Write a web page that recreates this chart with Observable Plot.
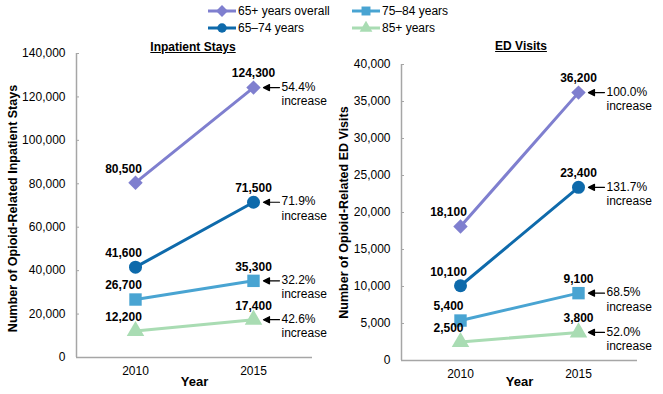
<!DOCTYPE html>
<html><head><meta charset="utf-8">
<script src="https://cdn.jsdelivr.net/npm/d3@7"></script>
<script src="https://cdn.jsdelivr.net/npm/@observablehq/plot@0.6"></script>
<style>
body{margin:0;background:#fff;font-family:"Liberation Sans",Arial,sans-serif;color:#000}
#wrap{position:relative;width:663px;height:394px;overflow:hidden}
.panel{position:absolute;top:0}
.title{position:absolute;font-weight:bold;font-size:12px;text-decoration:underline;transform:translate(-50%,-50%);white-space:nowrap}
.lg{position:absolute;display:flex;align-items:center;font-size:12px;white-space:nowrap;transform:translateY(-50%)}
.lg svg{margin-right:2px}
</style></head>
<body>
<div id="wrap"></div>
<script>
const years = [2010, 2015];
const series = ["65+ years overall", "65–74 years", "75–84 years", "85+ years"];
const colors = ["#7f7fcf", "#0e6aab", "#49a4d2", "#a9dcb3"];
const symbols = ["diamond2", "circle", "square", "triangle"];
const radii = [6.5, 6.5, 7, 6.5];

const inpatient2010 = [80500, 41600, 26700, 12200];
const inpatient2015 = [124300, 71500, 35300, 17400];
const inpatientChange = ["54.4%", "71.9%", "32.2%", "42.6%"];
const inpatientTicks = [0, 20000, 40000, 60000, 80000, 100000, 120000, 140000];

const ed2010 = [18100, 10100, 5400, 2500];
const ed2015 = [36200, 23400, 9100, 3800];
const edChange = ["100.0%", "131.7%", "68.5%", "52.0%"];
const edTicks = [0, 5000, 10000, 15000, 20000, 25000, 30000, 35000, 40000];

const fmt = d3.format(",");
const wrap = document.getElementById("wrap");

function makePanel(cfg) {
  const rows = [];
  series.forEach((s, i) => {
    rows.push({series: s, i, year: years[0], value: cfg.v0[i]});
    rows.push({series: s, i, year: years[1], value: cfg.v1[i], change: cfg.change[i]});
  });
  const r0 = rows.filter(d => d.year === years[0]);
  const r1 = rows.filter(d => d.year === years[1]);
  const axisColor = "#a6a6a6";
  const frameW = cfg.width - cfg.ml - cfg.mr;
  const marks = [
    Plot.tickY(cfg.ticks.slice(1), {y: d => d, stroke: axisColor, strokeWidth: 1, insetRight: frameW - 3}),
    Plot.ruleY([0], {stroke: axisColor, strokeWidth: 1.5}),
    Plot.ruleX([cfg.xDomain[0]], {stroke: axisColor, strokeWidth: 1.5}),
    Plot.axisY({ticks: cfg.ticks, tickFormat: fmt, tickSize: 0, tickPadding: 11, label: null}),
    Plot.axisX({ticks: years, tickFormat: d => String(d), tickSize: 0, tickPadding: 9, label: null}),
    Plot.line(rows, {x: "year", y: "value", z: "series", stroke: "series", strokeWidth: 3}),
    ...series.map((s, i) => Plot.dot(rows.filter(d => d.i === i), {x: "year", y: "value", fill: "series", symbol: "series", r: radii[i]})),
    Plot.text(r0, {x: "year", y: "value", text: d => fmt(d.value), dx: -12, dy: -14, fontWeight: "bold"}),
    Plot.text(r1, {x: "year", y: "value", text: d => fmt(d.value), dx: 0, dy: -14, fontWeight: "bold"}),
    Plot.vector(r1, {x: "year", y: "value", length: 16, rotate: -90, anchor: "start", dx: 26,
      stroke: "black", fill: "black", strokeWidth: 1.2,
      shape: {draw(ctx, l) {
        ctx.moveTo(0, 0); ctx.lineTo(0, -l + 4);
        ctx.moveTo(0, -l); ctx.lineTo(-3, -l + 6); ctx.lineTo(3, -l + 6); ctx.closePath();
      }}}),
    Plot.text(r1, {x: "year", y: "value", text: d => d.change + "\nincrease", textAnchor: "start", lineAnchor: "top", dx: 28, dy: -7, lineHeight: 1.2}),
    Plot.text(["Year"], {frameAnchor: "bottom", dy: cfg.yearDy, fontWeight: "bold", fontSize: 13}),
    Plot.text([cfg.ylabel], {frameAnchor: "left", textAnchor: "middle", rotate: -90, dx: cfg.ylabelDx, dy: cfg.ylabelDy, fontWeight: "bold", fontSize: 12.5})
  ];
  const p = Plot.plot({
    width: cfg.width, height: 394,
    marginLeft: cfg.ml, marginRight: cfg.mr, marginTop: cfg.mt, marginBottom: cfg.mb,
    style: {fontSize: "12px", fontFamily: "'Liberation Sans', Arial, sans-serif", color: "#000", background: "transparent", overflow: "visible"},
    x: {type: "linear", domain: cfg.xDomain, axis: null},
    y: {domain: [0, cfg.ticks[cfg.ticks.length - 1]], axis: null},
    color: {domain: series, range: colors},
    symbol: {domain: series, range: symbols},
    marks
  });
  p.classList.add("panel");
  p.style.left = cfg.left + "px";
  wrap.appendChild(p);
  const t = document.createElement("div");
  t.className = "title"; t.textContent = cfg.title;
  t.style.left = cfg.tx + "px"; t.style.top = cfg.ty + "px";
  wrap.appendChild(t);
}

makePanel({v0: inpatient2010, v1: inpatient2015, change: inpatientChange, ticks: inpatientTicks,
  ylabel: "Number of Opioid-Related Inpatient Stays", title: "Inpatient Stays",
  width: 331, left: 0, ml: 76, mr: 19, mt: 53, mb: 37, xDomain: [2007.5, 2017.5],
  yearDy: 28, ylabelDx: -64, ylabelDy: 3, tx: 193, ty: 47});
makePanel({v0: ed2010, v1: ed2015, change: edChange, ticks: edTicks,
  ylabel: "Number of Opioid-Related ED Visits", title: "ED Visits",
  width: 332, left: 331, ml: 70, mr: 26, mt: 64, mb: 34, xDomain: [2007.5, 2017.5],
  yearDy: 25, ylabelDx: -58, ylabelDy: 0, tx: 521, ty: 46});

// legend
const legPos = [[208, 11], [208, 28], [352, 11], [352, 28]];
const legSym = [d3.symbolDiamond2, d3.symbolCircle, d3.symbolSquare, d3.symbolTriangle];
const legSize = [90, 70, 80, 70];
series.forEach((s, i) => {
  const div = document.createElement("div");
  div.className = "lg";
  div.style.left = legPos[i][0] + "px"; div.style.top = legPos[i][1] + "px";
  const path = d3.symbol(legSym[i], legSize[i])();
  div.innerHTML = `<svg width="28" height="14"><line x1="0" x2="28" y1="7" y2="7" stroke="${colors[i]}" stroke-width="3"/><path d="${path}" transform="translate(14,7)" fill="${colors[i]}"/></svg><span>${s}</span>`;
  wrap.appendChild(div);
});
</script>
</body></html>
